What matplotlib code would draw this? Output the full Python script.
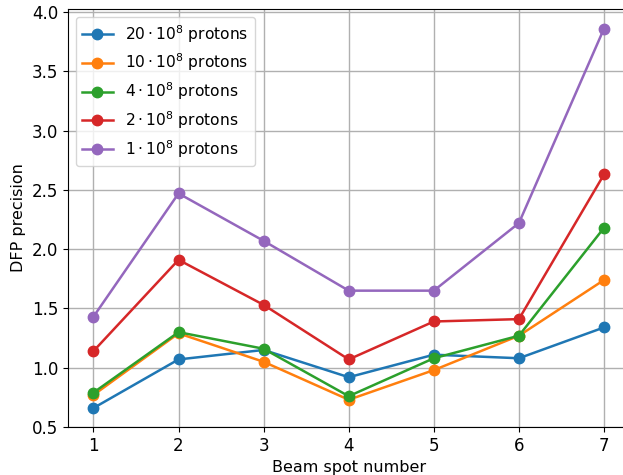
import matplotlib
matplotlib.use("Agg")
import matplotlib.pyplot as plt

spots = [1, 2, 3, 4, 5, 6, 7]
labels = [r"$20 \cdot 10^8$ protons", r"$10 \cdot 10^8$ protons",
          r"$4 \cdot 10^8$ protons", r"$2 \cdot 10^8$ protons",
          r"$1 \cdot 10^8$ protons"]
p20 = [0.66, 1.07, 1.15, 0.92, 1.11, 1.08, 1.34]
p10 = [0.77, 1.29, 1.05, 0.73, 0.98, 1.27, 1.74]
p4 = [0.79, 1.30, 1.16, 0.76, 1.08, 1.27, 2.18]
p2 = [1.14, 1.91, 1.53, 1.07, 1.39, 1.41, 2.63]
p1 = [1.43, 2.47, 2.07, 1.65, 1.65, 2.22, 3.86]

plt.rcParams["mathtext.default"] = "regular"
plt.rcParams["font.size"] = 11.5
fig = plt.figure(figsize=(6.23, 4.75), dpi=100)
ax = fig.add_axes([0.109, 0.101, 0.9015, 0.880])
for vals, lab in zip([p20, p10, p4, p2, p1], labels):
    ax.plot(spots, vals, "o-", label=lab, markersize=7.5, linewidth=1.8)
ax.set_xlim(0.7, 7.3)
ax.set_ylim(0.5, 4.025)
ax.set_xticks(spots)
ax.grid(True, linewidth=1.0)
ax.tick_params(labelsize=12)
ax.set_xlabel("Beam spot number", fontsize=11.5)
ax.set_ylabel("DFP precision", fontsize=11.5)
ax.legend(loc="upper left", fontsize=11.2, labelspacing=0.45)
fig.savefig("out.png", dpi=100)
